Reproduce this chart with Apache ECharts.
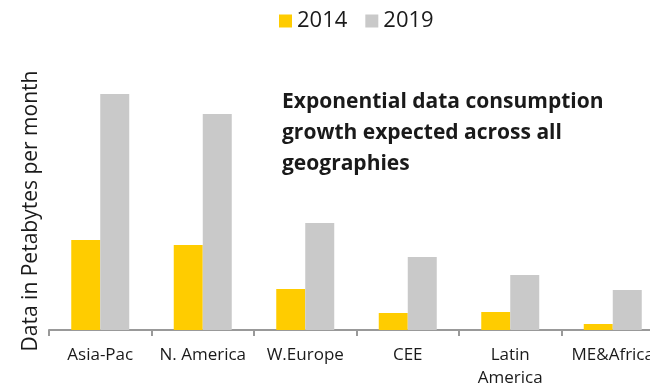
<!DOCTYPE html>
<html>
<head>
<meta charset="utf-8">
<script src="https://cdn.jsdelivr.net/npm/echarts@6/dist/echarts.min.js"></script>
<style>
html,body{margin:0;padding:0;background:#fff;}
#chart{width:650px;height:386px;}
</style>
</head>
<body>
<div id="chart"></div>
<script>
const categories = ['Asia-Pac', 'N. America', 'W.Europe', 'CEE', 'Latin\nAmerica', 'ME&Africa'];
const seriesNames = ['2014', '2019'];
const values2014 = [90, 85, 41, 17, 18, 6];
const values2019 = [236, 216, 107, 73, 55, 40];
const yTitle = 'Data in Petabytes per month';
const annotation = 'Exponential data consumption\ngrowth expected across all\ngeographies';

const FONT = '"Open Sans", sans-serif';
const chart = echarts.init(document.getElementById('chart'), null, {renderer: 'canvas'});
chart.setOption({
  animation: false,
  backgroundColor: '#ffffff',
  textStyle: {fontFamily: FONT},
  legend: {
    data: seriesNames,
    top: 5,
    left: 274,
    itemWidth: 13,
    itemHeight: 13,
    itemGap: 18,
    icon: 'rect',
    textStyle: {fontSize: 22, color: '#1a1a1a', fontFamily: FONT}
  },
  grid: {left: 49, top: 80, right: -14, bottom: 56, containLabel: false, outerBoundsMode: 'none'},
  xAxis: {
    type: 'category',
    data: categories,
    boundaryGap: true,
    axisLine: {lineStyle: {color: '#999999', width: 2}},
    axisTick: {show: true, length: 6, lineStyle: {color: '#999999', width: 2}},
    axisLabel: {color: '#1a1a1a', fontSize: 17, margin: 14, lineHeight: 23, fontFamily: FONT, interval: 0}
  },
  yAxis: {
    type: 'value',
    min: 0,
    max: 250,
    show: false,
    splitLine: {show: false}
  },
  series: [
    {name: seriesNames[0], type: 'bar', data: values2014, barWidth: 29, barGap: '0%', itemStyle: {color: '#FFCC00'}},
    {name: seriesNames[1], type: 'bar', data: values2019, barWidth: 29, barGap: '0%', itemStyle: {color: '#C9C9C9'}}
  ],
  graphic: [
    {
      type: 'text',
      left: 282,
      top: 87,
      style: {text: annotation, font: 'bold 21px ' + FONT, fill: '#1a1a1a', lineHeight: 31}
    },
    {
      type: 'text',
      x: 31,
      y: 211,
      rotation: Math.PI / 2,
      style: {text: yTitle, font: '21px ' + FONT, fill: '#1a1a1a', align: 'center', verticalAlign: 'middle'}
    }
  ]
});
</script>
</body>
</html>
